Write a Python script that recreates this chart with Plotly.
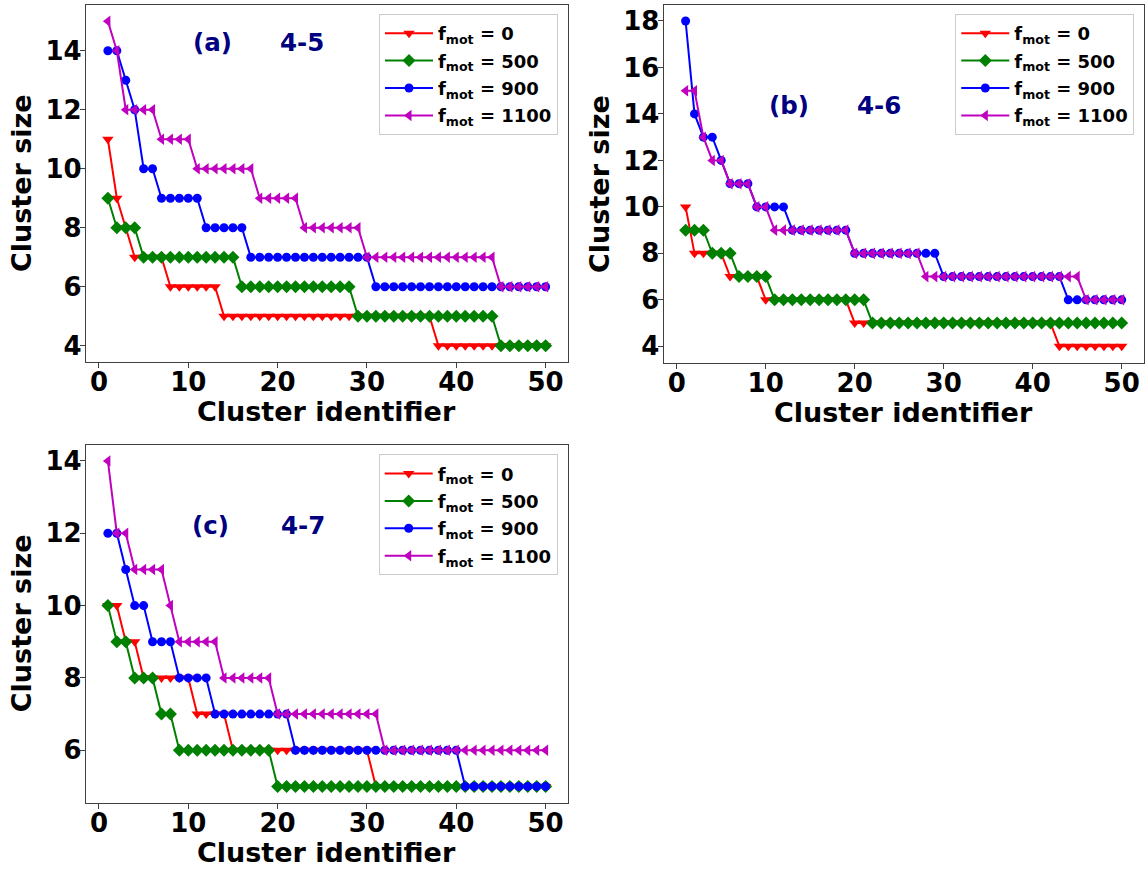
import plotly.graph_objects as go

W, H = 1148, 869

cluster_id = list(range(1, 51))
series_names = ["<b>f<sub>mot</sub> = 0</b>", "<b>f<sub>mot</sub> = 500</b>",
                "<b>f<sub>mot</sub> = 900</b>", "<b>f<sub>mot</sub> = 1100</b>"]

# Panel (a) 4-5
a_f0 = [11, 9, 8, 7, 7, 7, 7, 6, 6, 6, 6, 6, 6, 5, 5, 5, 5, 5, 5, 5, 5, 5, 5, 5, 5, 5,
        5, 5, 5, 5, 5, 5, 5, 5, 5, 5, 5, 4, 4, 4, 4, 4, 4, 4, 4, 4, 4, 4, 4, 4]
a_f500 = [9, 8, 8, 8, 7, 7, 7, 7, 7, 7, 7, 7, 7, 7, 7, 6, 6, 6, 6, 6, 6, 6, 6, 6, 6, 6,
          6, 6, 5, 5, 5, 5, 5, 5, 5, 5, 5, 5, 5, 5, 5, 5, 5, 5, 4, 4, 4, 4, 4, 4]
a_f900 = [14, 14, 13, 12, 10, 10, 9, 9, 9, 9, 9, 8, 8, 8, 8, 8, 7, 7, 7, 7, 7, 7, 7, 7,
          7, 7, 7, 7, 7, 7, 6, 6, 6, 6, 6, 6, 6, 6, 6, 6, 6, 6, 6, 6, 6, 6, 6, 6, 6, 6]
a_f1100 = [15, 14, 12, 12, 12, 12, 11, 11, 11, 11, 10, 10, 10, 10, 10, 10, 10, 9, 9, 9,
           9, 9, 8, 8, 8, 8, 8, 8, 8, 7, 7, 7, 7, 7, 7, 7, 7, 7, 7, 7, 7, 7, 7, 7, 6, 6,
           6, 6, 6, 6]

# Panel (b) 4-6
b_f0 = [10, 8, 8, 8, 8, 7, 7, 7, 7, 6, 6, 6, 6, 6, 6, 6, 6, 6, 6, 5, 5, 5, 5, 5, 5, 5,
        5, 5, 5, 5, 5, 5, 5, 5, 5, 5, 5, 5, 5, 5, 5, 5, 4, 4, 4, 4, 4, 4, 4, 4]
b_f500 = [9, 9, 9, 8, 8, 8, 7, 7, 7, 7, 6, 6, 6, 6, 6, 6, 6, 6, 6, 6, 6, 5, 5, 5, 5, 5,
          5, 5, 5, 5, 5, 5, 5, 5, 5, 5, 5, 5, 5, 5, 5, 5, 5, 5, 5, 5, 5, 5, 5, 5]
b_f900 = [18, 14, 13, 13, 12, 11, 11, 11, 10, 10, 10, 10, 9, 9, 9, 9, 9, 9, 9, 8, 8, 8,
          8, 8, 8, 8, 8, 8, 8, 7, 7, 7, 7, 7, 7, 7, 7, 7, 7, 7, 7, 7, 7, 6, 6, 6, 6, 6,
          6, 6]
b_f1100 = [15, 15, 13, 12, 12, 11, 11, 11, 10, 10, 9, 9, 9, 9, 9, 9, 9, 9, 9, 8, 8, 8,
           8, 8, 8, 8, 8, 7, 7, 7, 7, 7, 7, 7, 7, 7, 7, 7, 7, 7, 7, 7, 7, 7, 7, 6, 6, 6,
           6, 6]

# Panel (c) 4-7
c_f0 = [10, 10, 9, 9, 8, 8, 8, 8, 8, 8, 7, 7, 7, 7, 6, 6, 6, 6, 6, 6, 6, 6, 6, 6, 6, 6,
        6, 6, 6, 6, 5, 5, 5, 5, 5, 5, 5, 5, 5, 5, 5, 5, 5, 5, 5, 5, 5, 5, 5, 5]
c_f500 = [10, 9, 9, 8, 8, 8, 7, 7, 6, 6, 6, 6, 6, 6, 6, 6, 6, 6, 6, 5, 5, 5, 5, 5, 5, 5,
          5, 5, 5, 5, 5, 5, 5, 5, 5, 5, 5, 5, 5, 5, 5, 5, 5, 5, 5, 5, 5, 5, 5, 5]
c_f900 = [12, 12, 11, 10, 10, 9, 9, 9, 8, 8, 8, 8, 7, 7, 7, 7, 7, 7, 7, 7, 7, 6, 6, 6, 6,
          6, 6, 6, 6, 6, 6, 6, 6, 6, 6, 6, 6, 6, 6, 6, 5, 5, 5, 5, 5, 5, 5, 5, 5, 5]
c_f1100 = [14, 12, 12, 11, 11, 11, 11, 10, 9, 9, 9, 9, 9, 8, 8, 8, 8, 8, 8, 7, 7, 7, 7, 7,
           7, 7, 7, 7, 7, 7, 7, 6, 6, 6, 6, 6, 6, 6, 6, 6, 6, 6, 6, 6, 6, 6, 6, 6, 6, 6]

panel_labels = [("(a)", "4-5"), ("(b)", "4-6"), ("(c)", "4-7")]
y_ticks = [[4, 6, 8, 10, 12, 14], [4, 6, 8, 10, 12, 14, 16, 18], [6, 8, 10, 12, 14]]
x_ticks = [0, 10, 20, 30, 40, 50]
x_title = "Cluster identifier"
y_title = "Cluster size"

colors = ["#ff0000", "#008000", "#0000ff", "#bf00bf"]
symbols = ["triangle-down", "diamond", "circle", "triangle-left"]
msizes = [10, 10, 9, 10]

panels = [
    [a_f0, a_f500, a_f900, a_f1100],
    [b_f0, b_f500, b_f900, b_f1100],
    [c_f0, c_f500, c_f900, c_f1100],
]

FONT = "DejaVu Sans"

# layout geometry (pixels, from the top-left of the page)
xdom = [(86, 567.5), (663.8, 1143.5), (86, 567.5)]
ydom = [(5, 362), (4.7, 362.6), (444.7, 802.7)]
yranges = [(3.45, 15.55), (3.3, 18.7), (4.55, 14.45)]
legend_pos = [(558, 14), (1134.3, 14), (557.7, 454.3)]
label_pos = [((190.7, 43), (278, 43)), ((766.7, 105), (855, 105)), ((190.3, 525), (278.7, 525))]

fig = go.Figure()
for p, data in enumerate(panels):
    xa = "x" if p == 0 else f"x{p+1}"
    ya = "y" if p == 0 else f"y{p+1}"
    lg = "legend" if p == 0 else f"legend{p+1}"
    for s, vals in enumerate(data):
        fig.add_trace(go.Scatter(
            x=cluster_id, y=vals, mode="lines+markers", name=series_names[s],
            line=dict(color=colors[s], width=2),
            marker=dict(symbol=symbols[s], size=msizes[s], color=colors[s]),
            xaxis=xa, yaxis=ya, legend=lg, showlegend=True,
            legendgroup=f"p{p}s{s}",
        ))

layout = dict(
    width=W, height=H, margin=dict(l=0, r=0, t=0, b=0, autoexpand=False),
    paper_bgcolor="white", plot_bgcolor="white",
    font=dict(family=FONT, color="black"),
)
annotations = []
title_font = dict(family=FONT, size=27, weight="bold", color="black")
for p in range(3):
    sfx = "" if p == 0 else str(p + 1)
    x0, x1 = xdom[p]
    y0, y1 = ydom[p]
    axis_common = dict(showline=True, mirror=True, linecolor="#404040", linewidth=1.3,
                       ticks="outside", ticklen=5, tickwidth=1.2, tickcolor="#404040",
                       showgrid=False, zeroline=False,
                       tickfont=dict(family=FONT, size=26, weight="bold", color="black"))
    layout["xaxis" + sfx] = dict(
        domain=[x0 / W, x1 / W], anchor="y" + sfx, range=[-1.45, 52.45],
        tickvals=x_ticks, ticklabelstandoff=-8, **axis_common)
    layout["yaxis" + sfx] = dict(
        domain=[1 - y1 / H, 1 - y0 / H], anchor="x" + sfx, range=list(yranges[p]),
        tickvals=y_ticks[p], ticklabelstandoff=-7, **axis_common)
    # axis titles as annotations for exact placement
    annotations.append(dict(
        x=((x0 + x1) / 2) / W, y=1 - (y1 + 49.7) / H, xref="paper", yref="paper",
        text=x_title, showarrow=False, xanchor="center", yanchor="middle",
        font=title_font))
    annotations.append(dict(
        x=(x0 - 64.5) / W, y=1 - ((y0 + y1) / 2) / H, xref="paper", yref="paper",
        text=y_title, showarrow=False, xanchor="center", yanchor="middle",
        textangle=-90, font=title_font))
    lx, ly = legend_pos[p]
    layout["legend" if p == 0 else f"legend{p+1}"] = dict(
        x=lx / W, y=1 - ly / H, xanchor="right", yanchor="top",
        xref="paper", yref="paper",
        bgcolor="rgba(255,255,255,0.8)", bordercolor="#cccccc", borderwidth=1,
        font=dict(family=FONT, size=18, color="black"),
        tracegroupgap=1, itemwidth=48,
    )
    (px1, py1), (px2, py2) = label_pos[p]
    for (tx, ty), txt in zip(((px1, py1), (px2, py2)), panel_labels[p]):
        annotations.append(dict(
            x=tx / W, y=1 - ty / H, xref="paper", yref="paper", text=txt,
            showarrow=False, xanchor="left", yanchor="middle",
            font=dict(family=FONT, size=24.5, weight="bold", color="#000080"),
        ))
layout["annotations"] = annotations
fig.update_layout(**layout)

fig.write_html("out.html", config={"displayModeBar": False},
               post_script="document.body.style.margin='0';document.body.style.overflow='hidden';")
